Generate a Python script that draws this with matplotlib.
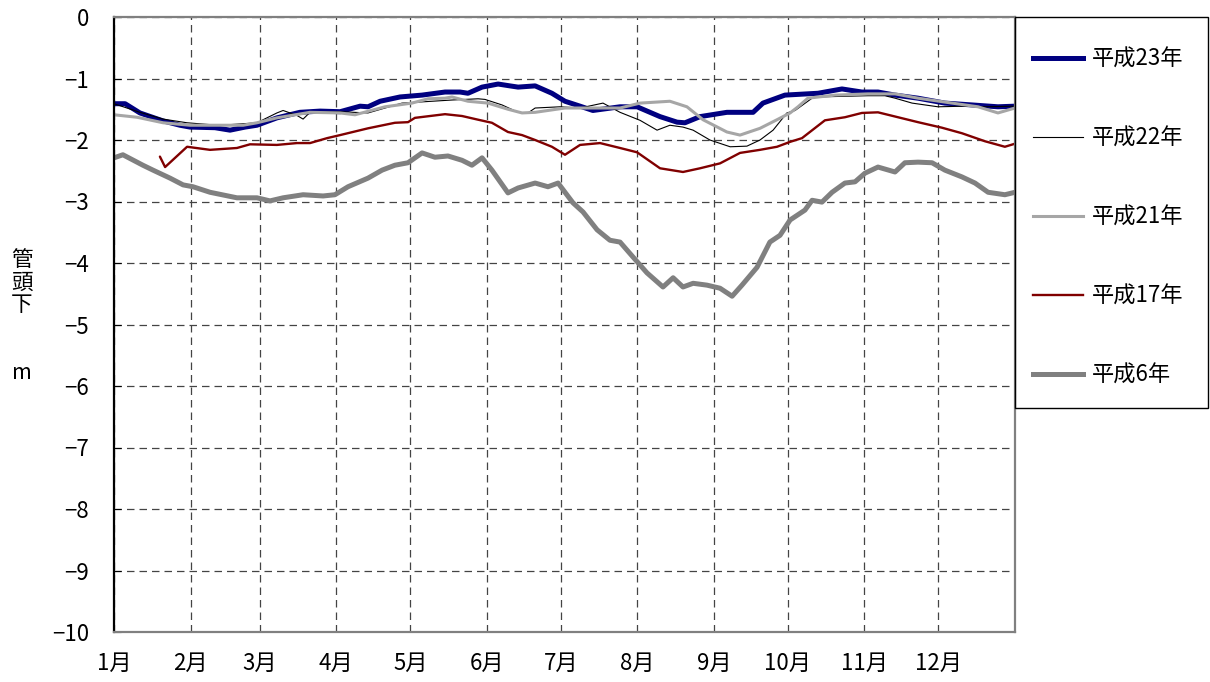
import matplotlib
matplotlib.use("Agg")
import matplotlib.pyplot as plt
from matplotlib.patches import Rectangle
from matplotlib.lines import Line2D

plt.rcParams['font.family'] = ['Noto Sans CJK JP', 'DejaVu Sans']
plt.rcParams['axes.unicode_minus'] = True

# ---- data (day of year, depth below pipe head in m) ----
month_days = [0, 31, 59, 90, 120, 151, 181, 212, 243, 273, 304, 334]
month_labels = ["1月", "2月", "3月", "4月", "5月", "6月", "7月", "8月", "9月", "10月", "11月", "12月"]
y_ticks = [0, -1, -2, -3, -4, -5, -6, -7, -8, -9, -10]

h23_day = [0, 4.5, 10.5, 19.9, 26.7, 30.8, 40.9, 47, 53.1, 57.9, 66, 75.3, 83.5, 91.6, 99.7, 102.9,
           107.8, 115.9, 124.8, 134.1, 140.2, 143.4, 149.1, 155.6, 160.4, 163.7, 170.6, 177.4, 182.7,
           188.8, 194, 205, 211.9, 221.2, 228.1, 231.3, 237.4, 248.3, 258.9, 262.9, 271.8, 285.2,
           294.9, 303, 309.5, 316.4, 325.7, 336.6, 347.6, 358.1, 365]
h23_val = [-1.41, -1.41, -1.56, -1.69, -1.76, -1.79, -1.80, -1.84, -1.79, -1.76, -1.64, -1.55, -1.53,
           -1.54, -1.45, -1.46, -1.37, -1.30, -1.27, -1.22, -1.22, -1.24, -1.14, -1.09, -1.12, -1.14,
           -1.12, -1.24, -1.37, -1.45, -1.52, -1.46, -1.46, -1.62, -1.71, -1.72, -1.62, -1.55, -1.55,
           -1.40, -1.27, -1.24, -1.17, -1.22, -1.22, -1.27, -1.32, -1.40, -1.43, -1.46, -1.45]

h22_day = [0, 10.5, 19.9, 29.6, 38.9, 47, 57.9, 66, 68.5, 74.1, 76.6, 79.4, 91.6, 102.9, 116.7, 124.8,
           136.9, 147.5, 150.3, 157.2, 163.7, 167.7, 170.6, 180.7, 188.8, 198.1, 205, 213.1, 220,
           225.2, 230.5, 234.6, 241.4, 249.6, 256.4, 261.7, 267, 272.6, 275.9, 282.8, 285.2, 295,
           305.4, 312.3, 316.4, 323.3, 333.8, 344.7, 352.8, 365]
h22_val = [-1.41, -1.55, -1.66, -1.72, -1.75, -1.75, -1.72, -1.56, -1.52, -1.60, -1.66, -1.55, -1.54,
           -1.56, -1.40, -1.38, -1.35, -1.33, -1.34, -1.43, -1.55, -1.56, -1.48, -1.46, -1.48, -1.40,
           -1.55, -1.68, -1.84, -1.76, -1.79, -1.84, -2.00, -2.11, -2.10, -2.00, -1.84, -1.56, -1.52,
           -1.32, -1.30, -1.29, -1.28, -1.28, -1.32, -1.40, -1.46, -1.45, -1.46, -1.45]

h21_day = [0, 9.3, 19.9, 30.8, 44.2, 52.3, 57.9, 66, 79.4, 91.6, 97.6, 109.8, 120.7, 127.2, 134.1,
           136.9, 143.4, 151.5, 159.6, 165.3, 170.6, 182.7, 194, 205, 213.1, 225.2, 232.1, 238.6,
           248.3, 253.6, 261.7, 268.6, 273.9, 277.1, 281.1, 292.1, 305.4, 316.4, 325.7, 339.5, 350,
           358.1, 365]
h21_val = [-1.59, -1.63, -1.72, -1.76, -1.76, -1.76, -1.72, -1.64, -1.55, -1.56, -1.59, -1.46, -1.40,
           -1.33, -1.32, -1.30, -1.37, -1.40, -1.50, -1.56, -1.55, -1.48, -1.48, -1.48, -1.40, -1.37,
           -1.46, -1.67, -1.87, -1.92, -1.81, -1.67, -1.56, -1.46, -1.32, -1.27, -1.25, -1.25, -1.32,
           -1.40, -1.46, -1.56, -1.48]

h17_day = [18.6, 20.7, 29.6, 38.9, 49.8, 55.1, 66, 74.1, 79.4, 86.3, 91.6, 102.9, 113.8, 119.1, 121.9,
           134.1, 141, 147.5, 153.1, 159.6, 165.3, 170.6, 177.4, 182.7, 188.8, 196.9, 205, 211.9,
           221.2, 230.5, 237.4, 245.5, 253.6, 261.7, 268.6, 273.9, 278.7, 288, 296.1, 303, 309.5,
           317.6, 325.7, 335.4, 343.5, 352.8, 360.9, 365]
h17_val = [-2.27, -2.44, -2.11, -2.16, -2.13, -2.07, -2.08, -2.05, -2.05, -1.97, -1.92, -1.81, -1.72,
           -1.71, -1.64, -1.58, -1.61, -1.67, -1.72, -1.87, -1.92, -2.00, -2.11, -2.24, -2.08, -2.05,
           -2.13, -2.20, -2.46, -2.52, -2.46, -2.38, -2.21, -2.16, -2.11, -2.03, -1.97, -1.68, -1.63,
           -1.56, -1.55, -1.63, -1.71, -1.80, -1.89, -2.02, -2.11, -2.06]

h6_day = [0, 3.6, 11.7, 15.8, 22.7, 28, 32, 38.9, 49.8, 57.9, 63.2, 68.5, 76.6, 84.7, 89.5, 94.8,
          102.9, 108.6, 113.8, 119.1, 124.8, 130, 135.3, 141, 145, 149.1, 153.1, 159.6, 163.7, 170.6,
          175.8, 179.9, 182.7, 185.9, 190, 195.7, 200.9, 205, 210.2, 215.9, 222.4, 226.5, 230.5,
          234.6, 240.2, 245.5, 250.4, 254.4, 260.5, 265.7, 269.8, 273.9, 279.9, 282.8, 286.8, 290.9,
          296.1, 300.2, 304.2, 309.5, 316.4, 320.4, 325.7, 331.4, 336.6, 343.5, 348.8, 354.1, 360.9,
          365]
h6_val = [-2.29, -2.24, -2.41, -2.49, -2.62, -2.73, -2.76, -2.85, -2.94, -2.94, -2.99, -2.94, -2.89,
          -2.91, -2.89, -2.76, -2.62, -2.49, -2.41, -2.37, -2.21, -2.28, -2.26, -2.33, -2.41, -2.29,
          -2.49, -2.86, -2.78, -2.70, -2.76, -2.70, -2.85, -3.02, -3.17, -3.46, -3.63, -3.66, -3.90,
          -4.16, -4.39, -4.24, -4.39, -4.33, -4.36, -4.41, -4.54, -4.36, -4.07, -3.66, -3.55, -3.30,
          -3.14, -2.98, -3.01, -2.85, -2.70, -2.68, -2.54, -2.44, -2.52, -2.37, -2.36, -2.37, -2.49,
          -2.60, -2.70, -2.85, -2.89, -2.85]

series = [
    ("平成23年", h23_day, h23_val, "#000080", 3.6),
    ("平成22年", h22_day, h22_val, "#000000", 0.8),
    ("平成21年", h21_day, h21_val, "#a6a6a6", 2.2),
    ("平成17年", h17_day, h17_val, "#800000", 1.7),
    ("平成6年", h6_day, h6_val, "#808080", 3.6),
]

W, H = 1210, 682
fig = plt.figure(figsize=(W / 100, H / 100), dpi=100)
ax = fig.add_axes([114 / W, 1 - 632 / H, (1015 - 114) / W, (632 - 17) / H])

handles = []
for label, d, v, c, lw in series:
    ax.plot(d, v, color=c, lw=lw, solid_joinstyle='round', solid_capstyle='round', label=label)
    handles.append(Line2D([], [], color=c, lw=lw, label=label))

FS = 16
ax.set_xlim(0, 365)
ax.set_ylim(-10, 0)
ax.set_xticks(month_days)
ax.set_xticklabels(month_labels, fontsize=FS)
ax.set_yticks(y_ticks)
ax.set_yticklabels([("−%d" % abs(t)) if t < 0 else "0" for t in y_ticks], fontsize=FS)
ax.tick_params(axis='x', length=0, pad=14)
ax.tick_params(axis='y', direction='in', length=5, pad=18, color='black')

ax.grid(True, which='major', color='#444444', linestyle=(0, (6, 4)), linewidth=0.9)
ax.set_axisbelow(True)
for s in ['top', 'right', 'bottom']:
    ax.spines[s].set_color('#808080')
    ax.spines[s].set_linewidth(1.6)
ax.spines['left'].set_color('black')
ax.spines['left'].set_linewidth(1.6)

# y label stacked vertically
for ch, yp in [("管", 260), ("頭", 283), ("下", 305), ("m", 373)]:
    fig.text(22 / W, 1 - yp / H, ch, fontsize=15.5, ha='center', va='center')

# legend box
fig.patches.append(Rectangle((1015 / W, 1 - 408 / H), (1208 - 1015) / W, (408 - 17) / H,
                             transform=fig.transFigure, fill=False, edgecolor='black', lw=1.0))
fig.legend(handles=handles, loc='upper left', bbox_to_anchor=(1033 / W, 1 - 48 / H),
           frameon=False, fontsize=FS, handlelength=2.25, handletextpad=0.4,
           labelspacing=2.52, borderpad=0.0, borderaxespad=0.0)

fig.savefig("out.png", dpi=100)
